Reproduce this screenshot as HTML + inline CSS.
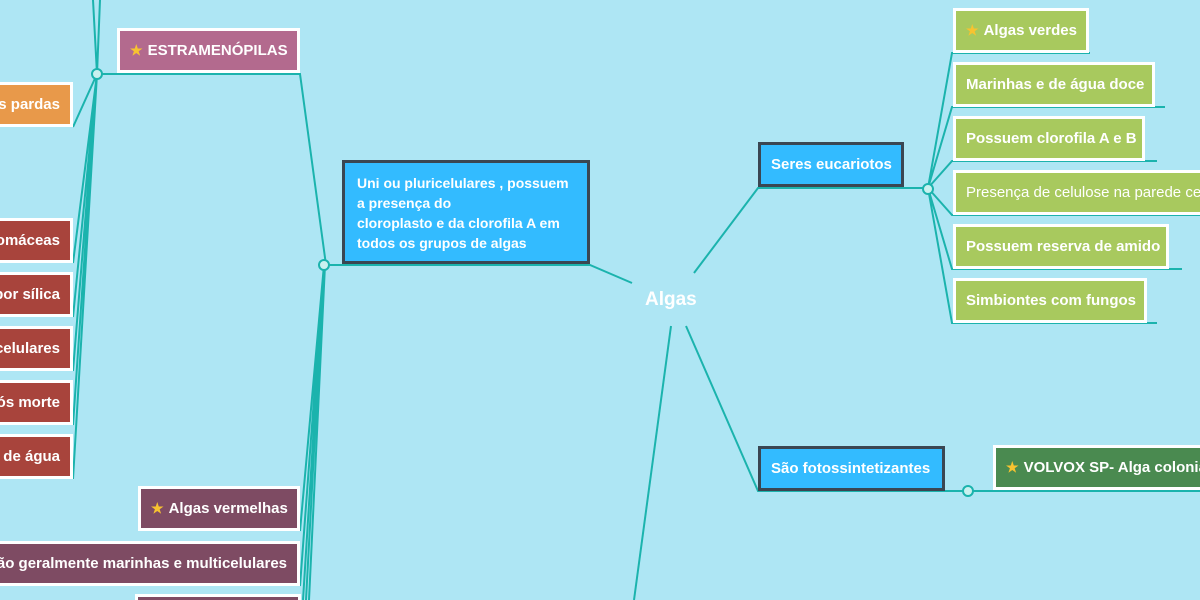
<!DOCTYPE html>
<html style="overflow:hidden;width:1200px;height:600px"><head><meta charset="utf-8"><style>
html,body{margin:0;width:1200px;height:600px;overflow:hidden}
body{background:#aee6f4;position:relative;font-family:"Liberation Sans",sans-serif}
.b{position:absolute;box-sizing:border-box;border:3px solid #fff;color:#fff;font-weight:bold;font-size:15px;display:flex;align-items:center;white-space:nowrap;padding:0 10px;overflow:hidden}
.r{justify-content:flex-end;border-left:none}
.d{border-color:#3a4652;background:#33bbff}
svg{position:absolute;left:0;top:0}
.st{color:#f7c330;font-size:14px;margin-right:5px}
</style></head><body>
<svg width="1200" height="600" fill="none" stroke="#1bb3ad" stroke-width="2">
<path d="M97 74 L93 0 M97 74 L100 0 M97 74 L300 74 L326 265"/>
<path d="M73 127 L97 74 M73 263 L97 74 M73 317 L97 74 M73 371 L97 74 M73 425 L97 74 M73 479 L97 74"/>
<path d="M324 265 L590 265 L632 283"/>
<path d="M300 531 L324 265 M300 586 L324 265 M303 600 L324 265 M306 600 L324 265 M309 600 L325 265"/>
<path d="M694 273 L758 188 L928 188"/>
<path d="M928 188 L952 53 L1090 53 M928 188 L952 107 L1165 107 M928 188 L952 161 L1157 161 M928 188 L952 215 L1200 215 M928 188 L952 269 L1182 269 M928 188 L952 323 L1157 323"/>
<path d="M686 326 L758 491 L1200 491"/>
<path d="M671 326 L634 600"/>
<circle cx="97" cy="74" r="5" fill="#c9f1ef"/>
<circle cx="324" cy="265" r="5" fill="#c9f1ef"/>
<circle cx="928" cy="189" r="5" fill="#c9f1ef"/>
<circle cx="968" cy="491" r="5" fill="#c9f1ef"/>
<rect x="136.5" y="595.5" width="163" height="10" fill="#7e4b63" stroke="#fff" stroke-width="3"/>
</svg>
<div class="b" style="left:117px;top:28px;width:183px;height:45px;background:#b36a8e"><span class="st">★</span>ESTRAMENÓPILAS</div>
<div class="b r" style="left:0;top:82px;width:73px;height:45px;background:#e8994a">Algas pardas</div>
<div class="b r" style="left:0;top:218px;width:73px;height:45px;background:#a8443c">Diatomáceas</div>
<div class="b r" style="left:0;top:272px;width:73px;height:45px;background:#a8443c">Revestidas por sílica</div>
<div class="b r" style="left:0;top:326px;width:73px;height:45px;background:#a8443c">Unicelulares</div>
<div class="b r" style="left:0;top:380px;width:73px;height:45px;background:#a8443c">Acúmulo após morte</div>
<div class="b r" style="left:0;top:434px;width:73px;height:45px;background:#a8443c">Doce e salgada de água</div>
<div class="b" style="left:138px;top:486px;width:162px;height:45px;background:#7e4b63"><span class="st">★</span>Algas vermelhas</div>
<div class="b r" style="left:0;top:541px;width:300px;height:45px;background:#7e4b63">São geralmente marinhas e multicelulares</div>
<div class="b d" style="left:342px;top:160px;width:248px;height:104px;white-space:nowrap;display:block;line-height:20px;padding:10px 12px;font-size:14px">Uni ou pluricelulares , possuem<br>a presença do<br>cloroplasto e da clorofila A em<br>todos os grupos de algas</div>
<div style="position:absolute;left:645px;top:289px;color:#fff;font-weight:bold;font-size:19px">Algas</div>
<div class="b d" style="left:758px;top:142px;width:146px;height:45px">Seres eucariotos</div>
<div class="b d" style="left:758px;top:446px;width:187px;height:45px">São fotossintetizantes</div>
<div class="b" style="left:953px;top:8px;width:136px;height:45px;background:#a8c95e"><span class="st">★</span>Algas verdes</div>
<div class="b" style="left:953px;top:62px;width:202px;height:45px;background:#a8c95e">Marinhas e de água doce</div>
<div class="b" style="left:953px;top:116px;width:192px;height:45px;background:#a8c95e">Possuem clorofila A e B</div>
<div class="b" style="left:953px;top:170px;width:247px;height:45px;background:#a8c95e;font-weight:normal;border-right:none">Presença de celulose na parede celular</div>
<div class="b" style="left:953px;top:224px;width:216px;height:45px;background:#a8c95e">Possuem reserva de amido</div>
<div class="b" style="left:953px;top:278px;width:194px;height:45px;background:#a8c95e">Simbiontes com fungos</div>
<div class="b" style="left:993px;top:445px;width:207px;height:45px;background:#4a8a50;border-right:none"><span class="st">★</span>VOLVOX SP- Alga colonial</div>
</body></html>
